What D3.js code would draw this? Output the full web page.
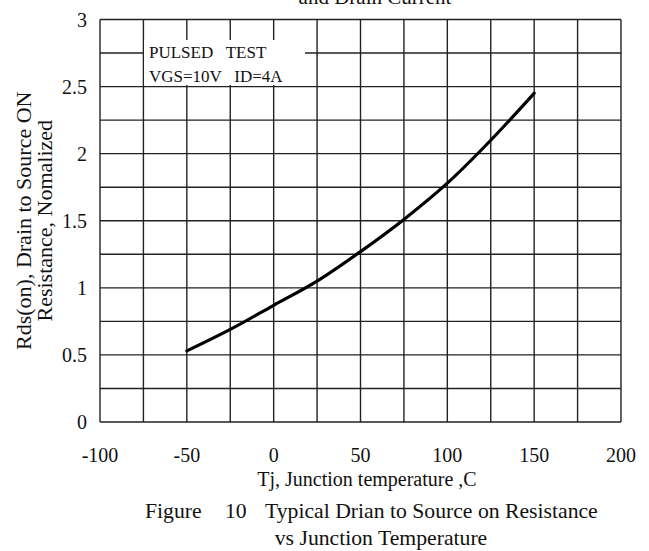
<!DOCTYPE html>
<html>
<head>
<meta charset="utf-8">
<script src="https://cdn.jsdelivr.net/npm/d3@7"></script>
<style>
  html, body { margin: 0; padding: 0; background: #fff; }
  svg { display: block; }
  text { font-family: "Liberation Serif", "Times New Roman", serif; fill: #111; }
</style>
</head>
<body>
<svg id="chart" width="649" height="551"></svg>
<script>
// Junction temperature (°C) and normalized Rds(on)
const temps = [-50, -25, 0, 25, 50, 75, 100, 125, 150];
const rdsOn = [0.53, 0.69, 0.87, 1.05, 1.27, 1.51, 1.78, 2.10, 2.45];

const xTicks = [-100, -50, 0, 50, 100, 150, 200];
const yTicks = [0, 0.5, 1, 1.5, 2, 2.5, 3];
const xGrid = d3.range(-100, 201, 25);
const yGrid = d3.range(0, 3.01, 0.25);

const noteLines = ["PULSED   TEST", "VGS=10V   ID=4A"];
const titleTop = "and Drain Current";
const xTitle = "Tj, Junction temperature ,C";
const yTitle = ["Rds(on), Drain to Source ON", "Resistance, Nomalized"];
const captionParts = ["Figure", "10", "Typical Drian to Source on Resistance"];
const captionLine2 = "vs Junction Temperature";

const svg = d3.select("#chart");
const L = 100, R = 621, T = 19.5, B = 422;

const x = d3.scaleLinear().domain([-100, 200]).range([L, R]);
const y = d3.scaleLinear().domain([0, 3]).range([B, T]);

// grid
const grid = svg.append("g").attr("stroke", "#222").attr("stroke-width", 1.4);
grid.selectAll("line.v").data(xGrid).join("line")
  .attr("x1", d => x(d)).attr("x2", d => x(d))
  .attr("y1", T).attr("y2", B);
grid.selectAll("line.h").data(yGrid).join("line")
  .attr("x1", L).attr("x2", R)
  .attr("y1", d => y(d)).attr("y2", d => y(d));

// tick labels
svg.append("g").selectAll("text").data(xTicks).join("text")
  .attr("x", d => x(d)).attr("y", B + 40)
  .attr("text-anchor", "middle").attr("font-size", 20)
  .text(d => d);
svg.append("g").selectAll("text").data(yTicks).join("text")
  .attr("x", L - 13).attr("y", d => y(d))
  .attr("dy", "0.35em")
  .attr("text-anchor", "end").attr("font-size", 20)
  .text(d => d);

// test-condition note on a white patch
svg.append("rect").attr("x", 144).attr("y", 40).attr("width", 161).attr("height", 45)
  .attr("fill", "#fff");
svg.append("g").selectAll("text").data(noteLines).join("text")
  .attr("x", 149).attr("y", (d, i) => 58 + i * 24)
  .attr("font-size", 17).style("white-space", "pre")
  .text(d => d);

// curve
const line = d3.line().x(d => x(d[0])).y(d => y(d[1])).curve(d3.curveMonotoneX);
svg.append("path")
  .datum(temps.map((t, i) => [t, rdsOn[i]]))
  .attr("d", line)
  .attr("fill", "none").attr("stroke", "#000").attr("stroke-width", 3.2)
  .attr("stroke-linecap", "round");

// titles
svg.append("text").attr("x", 375).attr("y", 4).attr("text-anchor", "middle")
  .attr("font-size", 21).text(titleTop);
svg.append("text").attr("x", 367).attr("y", 486).attr("text-anchor", "middle")
  .attr("font-size", 20).text(xTitle);
svg.append("g").selectAll("text").data(yTitle).join("text")
  .attr("transform", (d, i) => `translate(${31 + i * 21},${(T + B) / 2}) rotate(-90)`)
  .attr("text-anchor", "middle").attr("font-size", 22)
  .text(d => d);

// figure caption
const cap = svg.append("text").attr("y", 518).attr("font-size", 21.7);
const capX = [145, 225, 265];
cap.selectAll("tspan").data(captionParts).join("tspan")
  .attr("x", (d, i) => capX[i])
  .text(d => d);
svg.append("text").attr("x", 381).attr("y", 545)
  .attr("text-anchor", "middle").attr("font-size", 21.7)
  .text(captionLine2);
</script>
</body>
</html>
